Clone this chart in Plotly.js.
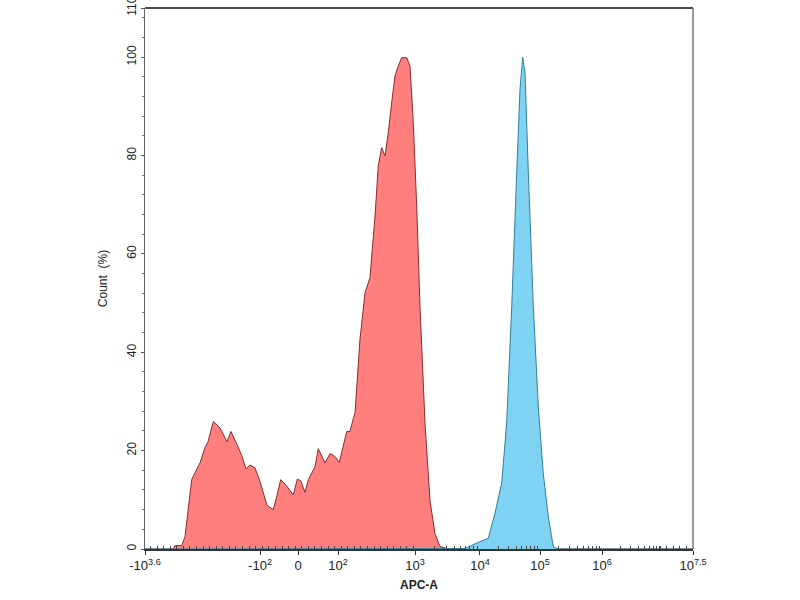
<!DOCTYPE html>
<html>
<head>
<meta charset="utf-8">
<script src="https://cdn.plot.ly/plotly-3.0.1.min.js"></script>
<style>html,body{margin:0;padding:0;background:#fff;}#chart{width:800px;height:600px;}</style>
</head>
<body>
<div id="chart"></div>
<script>
// X values are display channels (0-1000) on the biexponential APC-A scale
var tickChannels = [0, 209.9, 279.2, 352.2, 492.7, 611.3, 720.8, 834, 1000];
var tickLabels = ["-10<sup>3.6</sup>", "-10<sup>2</sup>", "0", "10<sup>2</sup>", "10<sup>3</sup>",
                  "10<sup>4</sup>", "10<sup>5</sup>", "10<sup>6</sup>", "10<sup>7.5</sup>"];

var redChannel = [0, 51.6, 54.7, 67.0, 73.0, 85.2, 91.2, 100.4, 109.5, 115.0, 124.6, 136.9, 149.6, 156.9,
  167.3, 176.5, 184.3, 191.6, 200.7, 209.9, 222.6, 234.1, 240.3, 247.6, 258.6, 270.6, 277.9, 284.1,
  292.0, 298.0, 310.2, 316.2, 328.5, 337.6, 346.7, 354.6, 368.1, 374.1, 380.1, 383.2, 392.3, 401.5,
  410.6, 419.7, 425.7, 431.9, 438.0, 444.0, 450.2, 456.2, 462.2, 468.4, 477.6, 483.6, 489.6, 495.8,
  501.8, 511.0, 520.1, 529.2, 538.3, 550.5, 568.8, 1000];
var redCount = [0, 0, 0.7, 0.7, 2.5, 14.1, 15.5, 17.5, 20.6, 21.8, 25.9, 24.6, 21.8, 23.9,
  21.4, 19.0, 16.3, 17.1, 16.5, 13.7, 8.9, 8.0, 10.6, 14.1, 12.8, 11.0, 14.2, 13.9,
  11.5, 14.1, 16.7, 20.4, 17.5, 19.4, 18.8, 17.6, 23.9, 23.9, 26.5, 27.6, 42.6, 52.1,
  55.2, 67.7, 77.9, 81.6, 79.9, 84.7, 90.8, 96.2, 98.2, 99.9, 99.9, 98.2, 86.7, 69.7,
  49.3, 25.5, 9.8, 3.1, 0.5, 0.1, 0, 0];

var blueChannel = [0, 574.8, 584.0, 605.3, 626.5, 638.7, 650.9, 660.0, 669.2, 678.3, 684.3, 689.2,
  693.4, 699.5, 708.6, 717.7, 726.8, 736.0, 745.1, 754.2, 1000];
var blueCount = [0, 0, 0.1, 1.2, 2.2, 7.3, 13.4, 25.6, 49.3, 76.5, 93.5, 100,
  96.9, 76.5, 49.3, 28.9, 15.3, 6.5, 0.4, 0, 0];

var yTicks = [0, 20, 40, 60, 80, 100, 110];

// minor tick positions along the axis (axis decoration)
var minorVals = [];
var decadeIdx = [4, 5, 6, 7];
for (var d = 0; d < decadeIdx.length; d++) {
  var a = tickChannels[decadeIdx[d]];
  var b = d < decadeIdx.length - 1 ? tickChannels[decadeIdx[d + 1]] : null;
  if (b === null) { b = a + (tickChannels[8] - a) / 1.5; }
  for (var k = 2; k <= 9; k++) minorVals.push(a + (b - a) * Math.log10(k));
}
for (var m = 10; m < 1000; m += 12) {
  if (m < 492) minorVals.push(m);
}
for (var m2 = 940; m2 < 1000; m2 += 12) minorVals.push(m2);

var traces = [
  {
    x: redChannel, y: redCount, type: 'scatter', mode: 'lines',
    fill: 'tozeroy', fillcolor: '#FF7F7F',
    line: {color: '#8B2A2A', width: 1, shape: 'linear'},
    hoverinfo: 'skip'
  },
  {
    x: blueChannel, y: blueCount, type: 'scatter', mode: 'lines',
    fill: 'tozeroy', fillcolor: '#80D2F2',
    line: {color: '#2F7F99', width: 1, shape: 'linear'},
    hoverinfo: 'skip'
  }
];

var layout = {
  width: 800, height: 600,
  margin: {l: 145, r: 107, t: 8, b: 51, pad: 0},
  paper_bgcolor: '#ffffff', plot_bgcolor: '#ffffff',
  showlegend: false,
  font: {family: 'Liberation Sans, Arial, sans-serif', size: 12, color: '#222'},
  xaxis: {
    range: [0, 1000], showgrid: false, zeroline: false,
    tickmode: 'array', tickvals: tickChannels, ticktext: tickLabels,
    ticks: 'outside', ticklen: 4, tickwidth: 1, tickcolor: '#333',
    showline: true, linecolor: '#333', linewidth: 1.5, mirror: false,
    tickfont: {size: 13, color: '#222'},
    ticklabeloverflow: 'allow',
    minor: {tickmode: 'array', tickvals: minorVals, ticks: 'inside', ticklen: 3, tickcolor: '#444', showgrid: false},
    title: {text: '<b>APC-A</b>', font: {size: 12, color: '#222'}, standoff: 8}
  },
  yaxis: {
    range: [0, 110], showgrid: false, zeroline: false,
    tickmode: 'array', tickvals: yTicks, ticktext: yTicks.map(String),
    tickangle: -90,
    ticks: 'outside', ticklen: 3, tickwidth: 1, tickcolor: '#555',
    showline: true, linecolor: '#666', linewidth: 1.5,
    tickfont: {size: 12, color: '#222'},
    ticklabeloverflow: 'allow',
    minor: {dtick: 4, tick0: 0, ticks: 'outside', ticklen: 2, tickcolor: '#777', showgrid: false},
    title: {text: 'Count  (%)', font: {size: 12, color: '#222'}, standoff: 14}
  },
  shapes: [
    {type: 'line', xref: 'paper', yref: 'paper', x0: 0, x1: 1, y0: 1, y1: 1, line: {color: '#111', width: 1.5}},
    {type: 'line', xref: 'paper', yref: 'paper', x0: 1, x1: 1, y0: 0, y1: 1, line: {color: '#777', width: 1.5}}
  ]
};

Plotly.newPlot('chart', traces, layout, {displayModeBar: false, staticPlot: true});
</script>
</body>
</html>
